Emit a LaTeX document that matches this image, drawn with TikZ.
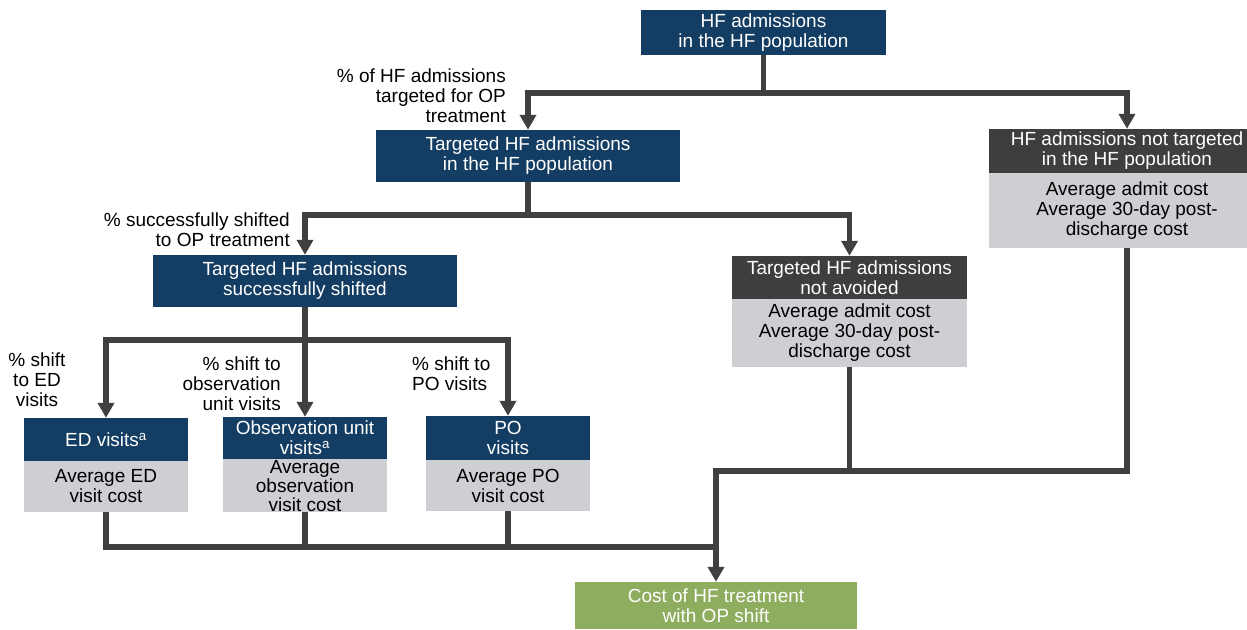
\documentclass[tikz,border=0pt]{standalone}
\usepackage{fontspec}
\setmainfont{Liberation Sans}
\usetikzlibrary{arrows.meta}
\definecolor{navy}{HTML}{143D63}
\definecolor{hdrgray}{HTML}{3E3E3E}
\definecolor{bodygray}{HTML}{CDCFD3}
\definecolor{linegray}{HTML}{404040}
\definecolor{costgreen}{HTML}{8FAD5E}
\begin{document}
\begin{tikzpicture}[x=1pt,y=-1pt,
  every node/.style={font=\fontsize{19}{20}\selectfont, inner sep=0pt, align=center},
  bluebox/.style={fill=navy,text=white},
  hdrbox/.style={fill=hdrgray,text=white},
  bodbox/.style={fill=bodygray,text=black},
  greenbox/.style={fill=costgreen,text=white},
  lbl/.style={text=black},
  conn/.style={draw=linegray,line width=5.5pt},
  arr/.style={conn,-{Triangle[length=15pt,width=16pt]}}]
\useasboundingbox (0,0) rectangle (1247,629);

% boxes
\node[bluebox,minimum width=245,minimum height=45] (top) at (763.5,32.5) {HF admissions\\in the HF population};
\node[bluebox,minimum width=304,minimum height=52] (tgt) at (528,156) {Targeted HF admissions\\in the HF population};
\node[hdrbox,minimum width=276,minimum height=44] (ntH) at (1127,151) {HF admissions not targeted\\in the HF population};
\node[bodbox,minimum width=276,minimum height=75] (ntB) at (1127,210.5) {Average admit cost\\Average 30-day post-\\discharge cost};
\node[bluebox,minimum width=304,minimum height=52] (ss) at (305,281) {Targeted HF admissions\\successfully shifted};
\node[hdrbox,minimum width=235,minimum height=43] (naH) at (849.5,277.5) {Targeted HF admissions\\not avoided};
\node[bodbox,minimum width=235,minimum height=68] (naB) at (849.5,333) {Average admit cost\\Average 30-day post-\\discharge cost};

\node[bluebox,minimum width=164,minimum height=43] (edH) at (106,439.5) {ED visits\textsuperscript{a}};
\node[bodbox,minimum width=164,minimum height=51] (edB) at (106,486.5) {Average ED\\visit cost};
\node[bluebox,minimum width=164,minimum height=42] (obH) at (305,438) {Observation unit\\visits\textsuperscript{a}};
\node[bodbox,minimum width=164,minimum height=53] (obB) at (305,485.5) {};
\node[text=black,font=\fontsize{19}{19}\selectfont] (obT) at (305,486) {Average\\observation\\visit cost};
\node[bluebox,minimum width=164,minimum height=44] (poH) at (508,438) {PO\\visits};
\node[bodbox,minimum width=164,minimum height=51] (poB) at (508,485.5) {Average PO\\visit cost};

\node[greenbox,minimum width=282,minimum height=47] (cost) at (716,605.5) {Cost of HF treatment\\with OP shift};

% labels
\node[lbl,anchor=east,align=right] (l1) at (506,96) {\%~of HF admissions\\targeted for OP\\treatment};
\node[lbl,anchor=east,align=right] (l2) at (290,230) {\%~successfully shifted\\to OP treatment};
\node[lbl,align=center] (l3) at (37,380) {\%~shift\\to ED\\visits};
\node[lbl,anchor=east,align=right] (l4) at (281,384) {\%~shift to\\observation\\unit visits};
\node[lbl,anchor=west,align=left] (l5) at (412,374) {\%~shift to\\PO visits};

% junctions
\path (top.south) ++(0,38) coordinate (j1);
\path (tgt.south) ++(0,33) coordinate (j2);
\path (ss.south) ++(0,33) coordinate (j3);
\coordinate (jb) at (716,547);
\coordinate (jr) at (716,471);

% connectors
\draw[conn] (top.south) -- (j1);
\draw[arr] (j1) -| (tgt.north);
\draw[arr] (j1) -| (ntH.north);
\draw[conn] (tgt.south) -- (j2);
\draw[arr] (j2) -| (ss.north);
\draw[arr] (j2) -| (naH.north);
\draw[conn] (ss.south) -- (j3);
\draw[arr] (j3) -| (edH.north);
\draw[arr] (j3) -- (obH.north);
\draw[arr] (j3) -| (poH.north);

\draw[conn] (edB.south) |- (jb);
\draw[conn] (obB.south) -- (obB.south |- jb);
\draw[conn] (poB.south) -- (poB.south |- jb);
\draw[arr] (ntB.south) |- (jr) -- (cost.north);
\draw[conn] (naB.south) -- (naB.south |- jr);
\end{tikzpicture}
\end{document}
